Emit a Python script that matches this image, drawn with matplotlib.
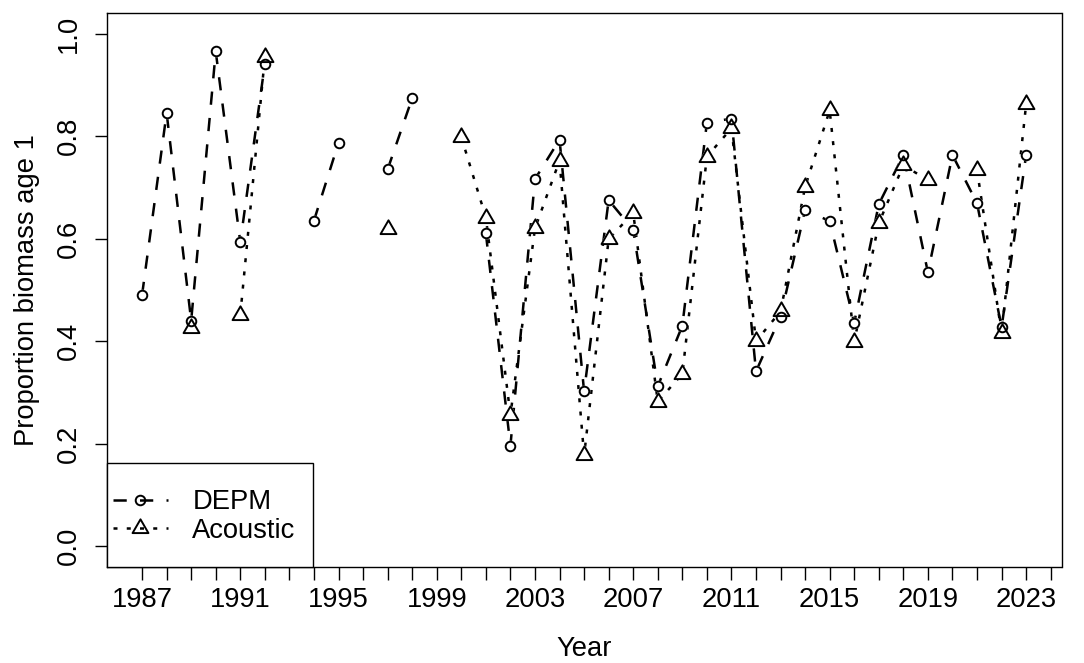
import numpy as np
import matplotlib
matplotlib.use("Agg")
import matplotlib.pyplot as plt
from matplotlib.lines import Line2D
from matplotlib.patches import Rectangle
from matplotlib.path import Path

plt.rcParams['font.family'] = ['Liberation Sans', 'DejaVu Sans']

# ---- data ----
years = list(range(1987, 2024))
nan = np.nan
depm = [0.490, 0.845, 0.440, 0.965, 0.593, 0.941, nan, 0.635, 0.787, nan,
        0.735, 0.874, nan, nan, 0.610, 0.196, 0.716, 0.793, 0.302, 0.675,
        0.617, 0.312, 0.430, 0.826, 0.834, 0.341, 0.448, 0.656, 0.634, 0.436,
        0.667, 0.763, 0.534, 0.763, 0.669, 0.427, 0.763]
acoustic = [nan, nan, 0.425, nan, 0.451, 0.954, nan, nan, nan, nan,
            0.619, nan, nan, 0.798, 0.641, 0.256, 0.620, 0.752, 0.177, 0.599,
            0.650, 0.282, 0.336, 0.760, 0.815, 0.400, 0.458, 0.701, 0.850, 0.399,
            0.630, 0.743, 0.714, nan, 0.734, 0.416, 0.862]
series_names = ["DEPM", "Acoustic"]
xtick_years = list(range(1987, 2025))
xlabel_years = list(range(1987, 2024, 4))
yticks = [0.0, 0.2, 0.4, 0.6, 0.8, 1.0]

# ---- figure ----
W, H = 1084, 663
fig = plt.figure(figsize=(W / 100, H / 100), dpi=100)
ax = fig.add_axes([106.7 / W, 1 - 566.7 / H, (1061.5 - 106.7) / W, (566.7 - 13) / H])

FS = 19.7
LW = 1.8
tri = Path([(0, 1), (-0.866, -0.5), (0.866, -0.5), (0, 1)],
           [Path.MOVETO, Path.LINETO, Path.LINETO, Path.CLOSEPOLY])
circ_kw = dict(marker='o', markersize=6.9, markeredgewidth=1.4)
tri_kw = dict(marker=tri, markersize=13.2, markeredgewidth=1.4)
dash_depm = (0, (5.3, 5.3))
dash_ac = (0, (1.6, 3.7))

x = np.array(years, dtype=float)
d = np.array(depm)
a = np.array(acoustic)

# lines
ax.plot(x, d, color='black', lw=LW, linestyle=dash_depm, zorder=1)
ax.plot(x, a, color='black', lw=LW, linestyle=dash_ac, zorder=1)
# white underlays so lines stop at the symbols
ax.plot(x, d, linestyle='none', color='white', markerfacecolor='white',
        markeredgecolor='white', zorder=2, **circ_kw)
ax.plot(x, a, linestyle='none', color='white', markerfacecolor='white',
        markeredgecolor='white', zorder=2, **tri_kw)
# open symbols
ax.plot(x, d, linestyle='none', markerfacecolor='none', markeredgecolor='black',
        zorder=3, **circ_kw)
ax.plot(x, a, linestyle='none', markerfacecolor='none', markeredgecolor='black',
        zorder=3, **tri_kw)

ax.set_xlim(1985.56, 2024.44)
ax.set_ylim(-0.04, 1.04)

ax.set_xticks(xtick_years)
ax.set_xticklabels([str(y) if y in xlabel_years else "" for y in xtick_years],
                   fontsize=FS)
ax.set_yticks(yticks)
ax.set_yticklabels([f"{v:.1f}" for v in yticks], rotation=90, va='center',
                   fontsize=FS)
ax.tick_params(axis='both', direction='out', length=9, width=1.0, color='black')
ax.tick_params(axis='x', pad=5.5)
ax.tick_params(axis='y', pad=8.7)
for s in ax.spines.values():
    s.set_linewidth(1.0)

ax.set_xlabel("Year", fontsize=FS, labelpad=17)
ax.set_ylabel("Proportion biomass age 1", fontsize=FS, labelpad=11.5)

# legend box
ax.add_patch(Rectangle((0, 0), (312.7 - 106.7) / (1061.5 - 106.7),
                       (566.7 - 463.3) / (566.7 - 13), transform=ax.transAxes,
                       facecolor='white', edgecolor='black', lw=1.0, zorder=4,
                       clip_on=False))
handles = [Line2D([], [], color='black', lw=LW, linestyle=dash_depm,
                  markerfacecolor='none', markeredgecolor='black', **circ_kw),
           Line2D([], [], color='black', lw=LW, linestyle=dash_ac,
                  markerfacecolor='none', markeredgecolor='black', **tri_kw)]
leg = ax.legend(handles, series_names, loc='center left',
                bbox_to_anchor=((113 - 106.7) / (1061.5 - 106.7),
                                (566.7 - 516.7) / (566.7 - 13)),
                frameon=False, fontsize=FS, borderpad=0, borderaxespad=0,
                handlelength=2.0, handletextpad=0.9, labelspacing=0.1,
                numpoints=1)
leg.set_zorder(5)

fig.savefig("out.png", dpi=100)
